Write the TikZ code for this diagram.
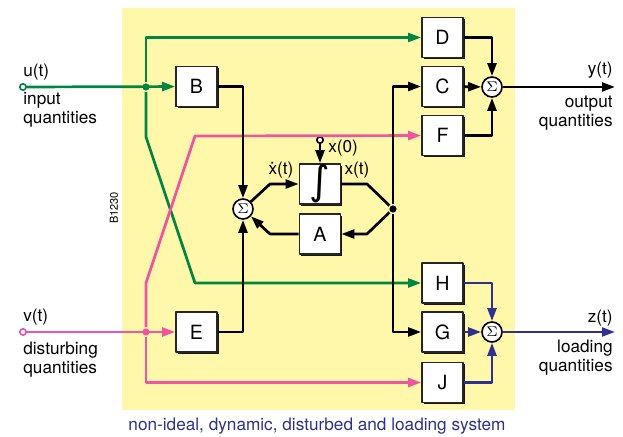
\documentclass[tikz,border=0pt]{standalone}
\usepackage{fontspec}
\usepackage{graphicx}
\setmainfont{TeX Gyre Heros}
\newfontfamily\intfont{DejaVu Sans}
\usetikzlibrary{arrows.meta,shadows}
\definecolor{sysyellow}{RGB}{255,247,170}
\definecolor{ingreen}{RGB}{0,133,66}
\definecolor{dispink}{RGB}{238,86,160}
\definecolor{loadblue}{RGB}{46,49,140}
\begin{document}
\begin{tikzpicture}[x=.5pt,y=-.5pt,line width=1.35pt,line join=round,
  >={Triangle[length=6.5pt,width=4.4pt]},
  blk/.style={draw=black!85,line width=.8pt,fill=white,minimum width=20.5pt,minimum height=20pt,inner sep=0pt,
    font=\fontsize{9.8}{10}\selectfont,drop shadow={shadow xshift=.8pt,shadow yshift=-.8pt,fill=black,opacity=.9}},
  sumnode/.style={circle,draw,line width=.8pt,fill=white,minimum size=10pt,inner sep=0pt,font=\fontsize{7}{7}\selectfont},
  port/.style={circle,draw,fill=white,line width=.8pt,minimum size=3.2pt,inner sep=0pt},
  jdot/.style={circle,fill,minimum size=3.6pt,inner sep=0pt},
  lbl/.style={font=\fontsize{8.6}{10}\selectfont,inner sep=0pt}]
  \useasboundingbox (0,0) rectangle (623,437);
  \fill[sysyellow] (122,8) rectangle (515,410);
  % blocks
  \node[blk] (B) at (196.5,86.5) {B};
  \node[blk] (E) at (196.5,332) {E};
  \node[blk] (I) at (320,184) {\resizebox{!}{15pt}{\intfont ∫}};
  \node[blk] (A) at (320,234) {A};
  \node[blk] (D) at (442.5,37.5) {D};
  \node[blk] (C) at (442.5,86.5) {C};
  \node[blk] (F) at (442.5,135.5) {F};
  \node[blk] (H) at (442.5,283) {H};
  \node[blk] (G) at (442.5,332) {G};
  \node[blk] (J) at (442.5,382.5) {J};
  \node[sumnode] (S0) at (243,209) {$\Sigma$};
  \node[sumnode] (S1) at (492,87) {$\Sigma$};
  \node[sumnode] (S2) at (492,332) {$\Sigma$};
  % ports and junctions
  \node[port,draw=ingreen] (u) at (23,87) {};
  \node[port,draw=dispink] (v) at (23,332) {};
  \node[port] (x0) at (320,140) {};
  \node[jdot,ingreen] (uj) at (146,87) {};
  \node[jdot,dispink] (vj) at (146,332) {};
  \node[jdot] (X) at (393,209) {};
  \coordinate (yend) at (615,87);
  \coordinate (zend) at (615,332);
  % input quantities
  \draw[ingreen,->] (u) -- (B);
  \draw[ingreen,->] (uj) |- (D);
  \draw[ingreen,->] (uj) -- ++(0,50) -- ++(49,146) -- (H);
  % disturbing quantities
  \draw[dispink,->] (v) -- (E);
  \draw[dispink,->] (vj) -- ++(0,-49) -- ++(49,-147) -- (F);
  \draw[dispink,->] (vj) |- (J);
  % state loop
  \draw[->] (B) -| (S0);
  \draw[->] (E) -| (S0);
  \draw[->] (S0) -- (270,184) -- (I);
  \draw (I) -- (367,184) -- (X);
  \draw[->] (X) -- (367,234) -- (A);
  \draw[->] (A) -- (270,234) -- (S0);
  \draw[->] (x0) -- (I);
  \draw[->] (X) |- (C);
  \draw[->] (X) |- (G);
  % output quantities
  \draw[->] (D) -| (S1);
  \draw[->] (C) -- (S1);
  \draw[->] (F) -| (S1);
  \draw[->] (S1) -- (yend);
  % loading quantities
  \draw[loadblue,->] (H) -| (S2);
  \draw[loadblue,->] (G) -- (S2);
  \draw[loadblue,->] (J) -| (S2);
  \draw[loadblue,->] (S2) -- (zend);
  % labels
  \node[lbl,anchor=base west] (ulbl) at (22,77) {u(t)};
  \node[lbl,anchor=base west] (uin) at (22,105) {input};
  \node[lbl,anchor=base west] (uqu) at (22,124) {quantities};
  \node[lbl,anchor=base west] (vlbl) at (22,322) {v(t)};
  \node[lbl,anchor=base west] (vdi) at (22,355) {disturbing};
  \node[lbl,anchor=base west] (vqu) at (22,374) {quantities};
  \node[lbl,anchor=base east] (ylbl) at (614,75) {y(t)};
  \node[lbl,anchor=base east] (yout) at (614,108) {output};
  \node[lbl,anchor=base east] (yqu) at (614,127) {quantities};
  \node[lbl,anchor=base east] (zlbl) at (614,323) {z(t)};
  \node[lbl,anchor=base east] (zlo) at (614,353) {loading};
  \node[lbl,anchor=base east] (zqu) at (614,372) {quantities};
  \node[lbl] (xdlbl) at (281,170) {\.x(t)};
  \node[lbl] (xlbl) at (357,170) {x(t)};
  \node[lbl,anchor=west] (x0lbl) at (327,148) {x(0)};
  \node[font=\fontsize{5.5}{6}\selectfont,rotate=90] (code) at (114,208) {B1230};
  \node[lbl,text=loadblue,anchor=base] (cap) at (317,431) {non-ideal, dynamic, disturbed and loading system};
\end{tikzpicture}
\end{document}
